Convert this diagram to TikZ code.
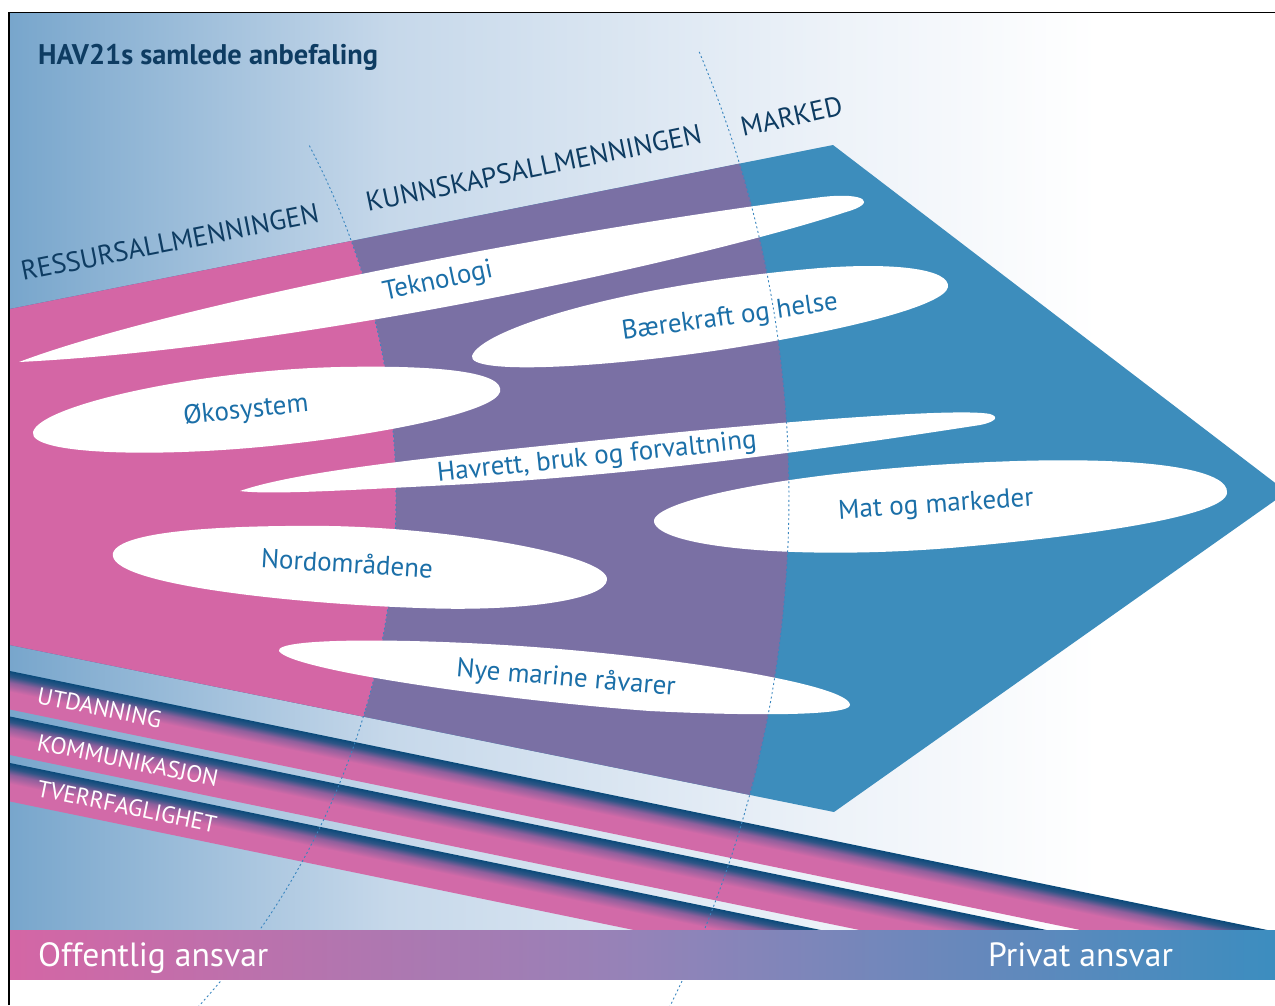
\documentclass[tikz,border=0pt]{standalone}
\usepackage{fontspec}
\setmainfont{PT Sans}
\definecolor{bandpink}{HTML}{D466A5}
\definecolor{bandpurple}{HTML}{7A70A4}
\definecolor{bandblue}{HTML}{3D8DBC}
\definecolor{navytext}{HTML}{0E3C62}
\definecolor{labelblue}{HTML}{1B6FA8}
\definecolor{bgleft}{HTML}{78A6CC}
\definecolor{bgmid}{HTML}{C6D8EA}
\definecolor{bgpale}{HTML}{EEF3F9}
\definecolor{dotblue}{HTML}{3A86BF}
\definecolor{stripenavy}{HTML}{0A4A7A}
\definecolor{stripedeep}{HTML}{2E5586}
\definecolor{stripemid}{HTML}{8E5F9C}
\definecolor{stripepink}{HTML}{D26AA8}
\definecolor{barpink}{HTML}{D466A5}
\definecolor{barpurple}{HTML}{9483B8}
\definecolor{barblue}{HTML}{3C8DBF}
\pgfdeclarehorizontalshading{bgshade}{100bp}{color(0bp)=(bgleft); color(25bp)=(bgleft); color(40bp)=(bgmid); color(58bp)=(bgpale); color(68bp)=(white); color(100bp)=(white)}
\pgfdeclareverticalshading{stripeshade}{100bp}{color(0bp)=(stripepink); color(25bp)=(stripepink); color(48bp)=(stripepink); color(60bp)=(stripemid); color(68bp)=(stripedeep); color(75bp)=(stripenavy); color(100bp)=(stripenavy)}
\begin{document}
\begin{tikzpicture}[x=1pt,y=-1pt,
  leaf/.style={fill=white},
  dotline/.style={draw=dotblue, line width=0.9pt, dash pattern=on 2pt off 2.6pt},
  stripeband/.style={shading=stripeshade},
  sectionlabel/.style={text=navytext, font=\fontsize{27.4}{32}\selectfont, inner sep=0pt, anchor=base west},
  leaflabel/.style={text=labelblue, font=\fontsize{27}{32}\selectfont, inner sep=0pt},
  stripelabel/.style={text=white, font=\fontsize{23.6}{28}\selectfont, inner sep=0pt, anchor=base west, rotate=-11.6},
  barlabel/.style={text=white, font=\fontsize{33.6}{40}\selectfont, inner sep=0pt, anchor=base west}]
\useasboundingbox (0,0) rectangle (1275,1005);
% background
\shade[shading=bgshade] (10,12) rectangle (1275,930.5);
\begin{scope}
\clip (10,12) rectangle (1275,1005);
% main arrow band
\fill[bandblue] (10,309) -- (833,145) -- (1287,492) -- (834,812) -- (10,645) -- cycle;
\begin{scope}
\clip (10,309) -- (833,145) -- (1287,492) -- (834,812) -- (10,645) -- cycle;
\fill[bandpurple] (-360,497) circle[radius=1149pt];
\fill[bandpink] (-360,497) circle[radius=756pt];
\end{scope}
% inner dotted divider, upper part (under the leaves)
\draw[dotline] plot[domain=-27.7:16.5, samples=60] ({-360+756*cos(\x)},{497+756*sin(\x)});
% leaves
\fill[leaf] (19,362) .. controls (170,305) and (560,230) .. (822,197)
  .. controls (866,192) and (878,203) .. (846,212)
  .. controls (700,260) and (300,348) .. (19,362) -- cycle;
\fill[leaf] (472,356) .. controls (480,330) and (620,285) .. (820,268)
  .. controls (900,262) and (950,270) .. (948,287)
  .. controls (945,305) and (850,330) .. (720,350)
  .. controls (600,368) and (468,375) .. (472,356) -- cycle;
\fill[leaf] (33,432) .. controls (40,405) and (200,370) .. (340,367)
  .. controls (440,365) and (505,372) .. (500,392)
  .. controls (495,410) and (400,432) .. (280,445)
  .. controls (160,458) and (28,455) .. (33,432) -- cycle;
\fill[leaf] (240,491) .. controls (300,470) and (450,455) .. (650,435)
  .. controls (800,420) and (960,408) .. (990,414)
  .. controls (1000,417) and (995,422) .. (980,425)
  .. controls (850,445) and (650,475) .. (450,485)
  .. controls (350,490) and (270,495) .. (240,491) -- cycle;
\fill[leaf] (654,522) .. controls (650,500) and (800,470) .. (990,462)
  .. controls (1150,455) and (1230,470) .. (1227,493)
  .. controls (1225,515) and (1100,535) .. (950,548)
  .. controls (800,560) and (660,548) .. (654,522) -- cycle;
\fill[leaf] (113,553) .. controls (120,530) and (230,525) .. (330,526)
  .. controls (450,528) and (610,555) .. (607,580)
  .. controls (605,600) and (520,612) .. (420,608)
  .. controls (300,604) and (105,585) .. (113,553) -- cycle;
\fill[leaf] (279,651) .. controls (275,638) and (400,638) .. (520,646)
  .. controls (680,657) and (850,685) .. (850,705)
  .. controls (850,716) and (750,716) .. (650,711)
  .. controls (500,700) and (290,670) .. (279,651) -- cycle;
% stripes
\begin{scope}
\clip (10,12) rectangle (1275,930.5);
\begin{scope}[transform canvas={rotate around={-11.64:(10,671)}}]
\shade[stripeband] (-20,671) rectangle (1500,708.7);
\end{scope}
\begin{scope}[transform canvas={rotate around={-11.64:(10,716.5)}}]
\shade[stripeband] (-20,716.5) rectangle (1500,754.2);
\end{scope}
\begin{scope}[transform canvas={rotate around={-11.64:(10,763)}}]
\shade[stripeband] (-20,763) rectangle (1500,800.7);
\end{scope}
\end{scope}
% dotted dividers over the leaves / stripes
\draw[dotline] plot[domain=16.5:42.6, samples=40] ({-360+756*cos(\x)},{497+756*sin(\x)});
\draw[dotline] plot[domain=-22.8:26.4, samples=90] ({-360+1149*cos(\x)},{497+1149*sin(\x)});
% bottom bar
\shade[left color=barpink, right color=barblue, middle color=barpurple] (10,930.5) rectangle (1275,979);
\end{scope}
% frame
\draw[line width=1.8pt] (9.3,1005) -- (9.3,12.5) -- (1275,12.5);
% texts
\node[text=navytext, font=\bfseries\fontsize{28.4}{34}\selectfont, inner sep=0pt, anchor=base west] (title) at (38,64.3) {HAV21s samlede anbefaling};
\node[sectionlabel, rotate=11.2] (ressurs) at (23,281) {RESSURSALLMENNINGEN};
\node[sectionlabel, rotate=11.7] (kunnskap) at (368,212) {KUNNSKAPSALLMENNINGEN};
\node[sectionlabel, rotate=12.5] (marked) at (743,137) {MARKED};
\node[leaflabel, rotate=12] (tek) at (438,282) {Teknologi};
\node[leaflabel, rotate=8] (baer) at (730,318) {Bærekraft og helse};
\node[leaflabel, rotate=6] (oko) at (246,411) {Økosystem};
\node[leaflabel, rotate=6] (havrett) at (597,458) {Havrett, bruk og forvaltning};
\node[leaflabel, rotate=4] (mat) at (936,506) {Mat og markeder};
\node[leaflabel, rotate=-3.5] (nord) at (347,563) {Nordområdene};
\node[leaflabel, rotate=-5] (nye) at (566,679) {Nye marine råvarer};
\node[stripelabel] (utd) at (36,703) {UTDANNING};
\node[stripelabel] (kom) at (36,750) {KOMMUNIKASJON};
\node[stripelabel] (tverr) at (36,796) {TVERRFAGLIGHET};
\node[barlabel] (off) at (38,966) {Offentlig ansvar};
\node[barlabel] (priv) at (988,966) {Privat ansvar};
\end{tikzpicture}
\end{document}
